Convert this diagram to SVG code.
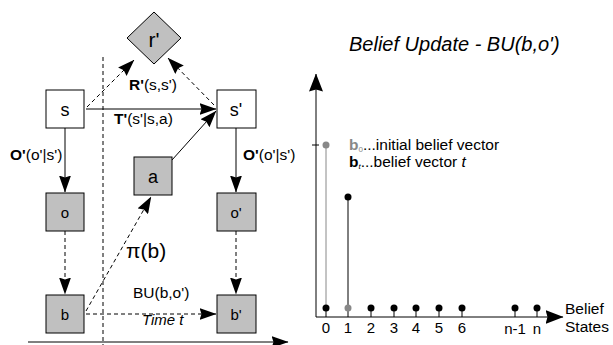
<svg xmlns="http://www.w3.org/2000/svg" width="613" height="345" viewBox="0 0 613 345">
<defs>
<style>
.t{font-family:"Liberation Sans",Arial,sans-serif;fill:#000}
.box{stroke:#000;stroke-width:1}
.w{fill:#fff}
.g{fill:#c0c0c0}
.ln{stroke:#000;stroke-width:1;fill:none}
.dash{stroke-dasharray:4,3}
.dot{fill:#000}
.gd{fill:#888}
</style>
<marker id="ah" viewBox="0 0 17 12" refX="16.5" refY="6" markerWidth="17" markerHeight="12" markerUnits="userSpaceOnUse" orient="auto">
<path d="M0,0 L17,6 L0,12 L2,6 Z" fill="#000"/>
</marker>
<marker id="ahb" viewBox="0 0 18 14" refX="17.5" refY="7" markerWidth="18" markerHeight="14" markerUnits="userSpaceOnUse" orient="auto">
<path d="M0,0 L18,7 L0,14 L2,7 Z" fill="#000"/>
</marker>
</defs>
<rect width="613" height="345" fill="#fff"/>
<g id="connectors">
<line class="ln" x1="103" y1="57" x2="103" y2="345" stroke-dasharray="4,3"/>
<line class="ln" x1="28" y1="342" x2="288" y2="342" marker-end="url(#ah)"/>
<line class="ln" x1="86" y1="109" x2="216" y2="109" marker-end="url(#ah)"/>
<line class="ln dash" x1="87" y1="107" x2="134" y2="60" marker-end="url(#ah)"/>
<line class="ln dash" x1="214" y1="105" x2="168" y2="58" marker-end="url(#ah)"/>
<line class="ln" x1="172" y1="160" x2="216" y2="111" marker-end="url(#ah)"/>
<line class="ln" x1="65" y1="128" x2="65" y2="192" marker-end="url(#ah)"/>
<line class="ln" x1="236" y1="128" x2="236" y2="192" marker-end="url(#ah)"/>
<line class="ln dash" x1="65" y1="231" x2="65" y2="294" marker-end="url(#ah)"/>
<line class="ln dash" x1="236" y1="231" x2="236" y2="294" marker-end="url(#ah)"/>
<line class="ln dash" x1="86" y1="314" x2="216" y2="314" marker-end="url(#ah)"/>
<line class="ln dash" x1="86" y1="311" x2="151" y2="197" marker-end="url(#ah)"/>
</g>
<g id="labels">
<text class="t" x="129" y="90" font-size="15.5"><tspan font-weight="bold">R'</tspan>(s,s')</text>
<text class="t" x="114" y="124" font-size="15.5"><tspan font-weight="bold">T'</tspan>(s'|s,a)</text>
<text class="t" x="10" y="160" font-size="15.5"><tspan font-weight="bold">O'</tspan>(o'|s')</text>
<text class="t" x="243" y="160" font-size="15.5"><tspan font-weight="bold">O'</tspan>(o'|s')</text>
<text class="t" x="126" y="258" font-size="21">π(b)</text>
<text class="t" x="133" y="298" font-size="15.5">BU(b,o')</text>
<text class="t" x="142" y="325" font-size="15" font-style="italic">Time t</text>
</g>
<g id="r">
<polygon class="box g" points="154,12 181,38 154,64 127,38"/>
<text class="t" x="154" y="47" font-size="21" text-anchor="middle">r'</text>
</g>
<g id="s">
<rect class="box w" x="46" y="90" width="38" height="38"/>
<text class="t" x="65" y="116" font-size="18" text-anchor="middle">s</text>
</g>
<g id="s2">
<rect class="box w" x="217" y="90" width="39" height="38"/>
<text class="t" x="236" y="116" font-size="18" text-anchor="middle">s'</text>
</g>
<g id="a">
<rect class="box g" x="134" y="157" width="38" height="38"/>
<text class="t" x="153" y="183" font-size="18" text-anchor="middle">a</text>
</g>
<g id="o">
<rect class="box g" x="46" y="193" width="38" height="38"/>
<text class="t" x="65" y="218" font-size="15" text-anchor="middle">o</text>
</g>
<g id="o2">
<rect class="box g" x="217" y="193" width="39" height="38"/>
<text class="t" x="236" y="218" font-size="15" text-anchor="middle">o'</text>
</g>
<g id="b">
<rect class="box g" x="46" y="295" width="38" height="38"/>
<text class="t" x="65" y="320" font-size="15" text-anchor="middle">b</text>
</g>
<g id="b2">
<rect class="box g" x="217" y="295" width="39" height="38"/>
<text class="t" x="236" y="320" font-size="15" text-anchor="middle">b'</text>
</g>
<g id="chart">
<text class="t" x="349" y="51" font-size="20" font-style="italic">Belief Update - BU(b,o')</text>
<line class="ln" x1="316" y1="317" x2="316" y2="74" marker-end="url(#ahb)"/>
<line class="ln" x1="316" y1="317" x2="563" y2="317" marker-end="url(#ahb)"/>
<line class="ln" x1="312" y1="145" x2="319" y2="145"/>
<line x1="326" y1="145" x2="326" y2="308" stroke="#888" stroke-width="1"/>
<line x1="348" y1="197" x2="348" y2="308" stroke="#000" stroke-width="1"/>
<circle class="gd" cx="326" cy="145" r="3.5"/>
<circle class="dot" cx="348" cy="197" r="3.5"/>
<g stroke="#000" stroke-width="1">
<line x1="326" y1="308" x2="326" y2="317"/><line x1="348" y1="308" x2="348" y2="317"/>
<line x1="371" y1="308" x2="371" y2="317"/><line x1="394" y1="308" x2="394" y2="317"/>
<line x1="416" y1="308" x2="416" y2="317"/><line x1="439" y1="308" x2="439" y2="317"/>
<line x1="462" y1="308" x2="462" y2="317"/><line x1="515" y1="308" x2="515" y2="317"/>
<line x1="537" y1="308" x2="537" y2="317"/>
</g>
<circle class="dot" cx="326" cy="308" r="3.5"/>
<circle class="gd" cx="348" cy="308" r="3.5"/>
<circle class="dot" cx="371" cy="308" r="3.5"/>
<circle class="dot" cx="394" cy="308" r="3.5"/>
<circle class="dot" cx="416" cy="308" r="3.5"/>
<circle class="dot" cx="439" cy="308" r="3.5"/>
<circle class="dot" cx="462" cy="308" r="3.5"/>
<circle class="dot" cx="515" cy="308" r="3.5"/>
<circle class="dot" cx="537" cy="308" r="3.5"/>
<g class="t" font-size="15" text-anchor="middle">
<text x="326" y="333">0</text><text x="348" y="333">1</text><text x="371" y="333">2</text>
<text x="394" y="333">3</text><text x="416" y="333">4</text><text x="439" y="333">5</text>
<text x="462" y="333">6</text><text x="515" y="334">n-1</text><text x="537" y="334">n</text>
</g>
<text class="t" x="565" y="314" font-size="15.5">Belief</text>
<text class="t" x="565" y="332" font-size="15.5">States</text>
<text class="t" x="349" y="150" font-size="15.5"><tspan font-weight="bold" fill="#888">b</tspan><tspan font-size="8" dy="2" fill="#888">0</tspan><tspan dy="-2">...initial belief vector</tspan></text>
<text class="t" x="349" y="167" font-size="15.5"><tspan font-weight="bold">b</tspan><tspan font-size="8" dy="2" font-style="italic">t</tspan><tspan dy="-2">...belief vector </tspan><tspan font-style="italic">t</tspan></text>
</g>
</svg>
